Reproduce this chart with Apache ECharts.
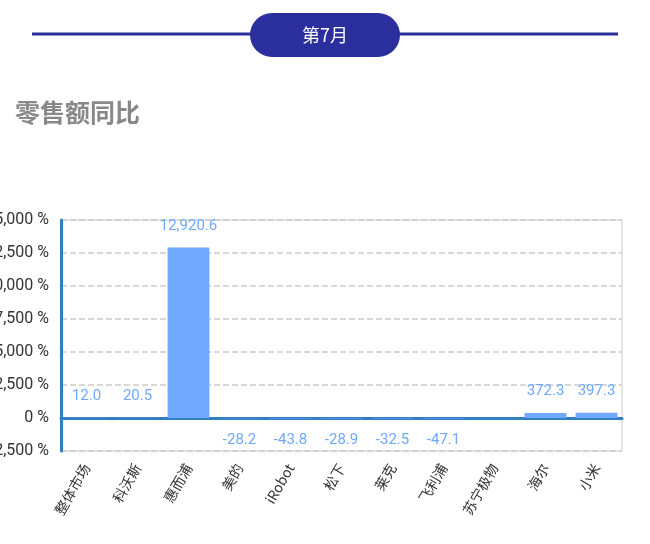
<!DOCTYPE html>
<html><head><meta charset="utf-8">
<script src="https://cdn.jsdelivr.net/npm/echarts@6/dist/echarts.min.js"></script>
<style>body{margin:0;background:#fff}#c{width:650px;height:544px}</style>
</head><body><div id="c"></div>
<script>
var categories=['整体市场','科沃斯','惠而浦','美的','iRobot','松下','莱克','飞利浦','苏宁极物','海尔','小米'];
var values=[12.0,20.5,12920.6,-28.2,-43.8,-28.9,-32.5,-47.1,null,372.3,397.3];
var chart=echarts.init(document.getElementById('c'));
chart.setOption({
  animation:false,
  graphic:[
    {type:'line',shape:{x1:32,y1:34,x2:618,y2:34},style:{stroke:'#2b2f9e',lineWidth:3}},
    {type:'rect',shape:{x:250,y:13,width:150,height:44,r:22},style:{fill:'#2b2f9e'}},
    {type:'text',x:325,y:35,style:{text:'第7月',fill:'#fff',font:'18px "Noto Sans CJK SC"',align:'center',verticalAlign:'middle'}},
    {type:'text',x:15,y:112,style:{text:'零售额同比',fill:'#888',font:'bold 25px "Noto Sans CJK SC"',verticalAlign:'middle'}}
  ],
  grid:{left:61,right:28,top:220,bottom:93,show:true,borderColor:'#ccc',borderWidth:1,outerBoundsMode:'none',containLabel:false},
  xAxis:{type:'category',data:categories,
    axisLine:{onZero:true,lineStyle:{color:'#2f7fc1',width:3}},axisTick:{show:false},
    axisLabel:{rotate:60,interval:0,color:'#333',fontSize:14,fontFamily:'Noto Sans CJK SC',margin:14}},
  yAxis:{type:'value',min:-2500,max:15000,interval:2500,
    axisLine:{show:true,lineStyle:{color:'#2f7fc1',width:3}},
    axisLabel:{formatter:'{value} %',color:'#333',fontSize:16,fontFamily:'Roboto',margin:12},
    splitLine:{lineStyle:{type:'dashed',color:'#ccc',width:1.5}}},
  series:[{type:'bar',data:values.map(function(v){return {value:v,label:{position:v<0?'bottom':'top'}};}),
    barWidth:'82%',itemStyle:{color:'#6fa8ff'},
    label:{show:true,color:'#6fa8ff',fontSize:15,fontFamily:'Roboto',distance:14,
      formatter:function(p){return p.value==null?'':Number(p.value).toLocaleString('en-US',{minimumFractionDigits:1,maximumFractionDigits:1});}}}]
});
</script></body></html>
